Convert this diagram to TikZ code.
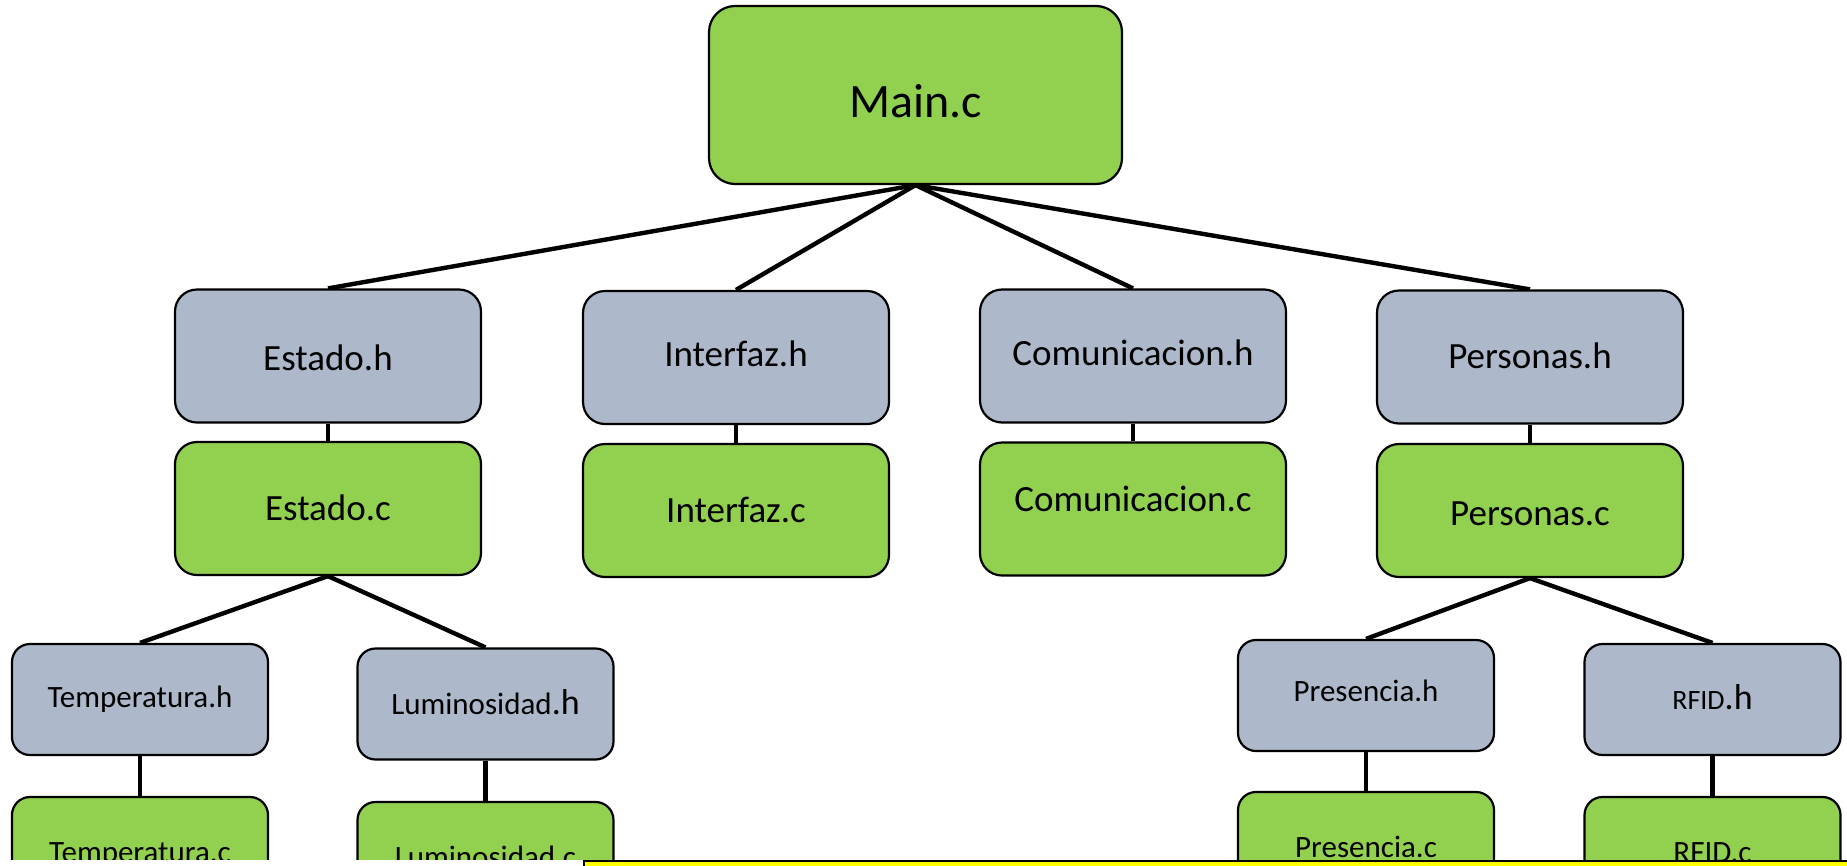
\documentclass[tikz,border=0pt]{standalone}
\usepackage{fontspec}
\setmainfont{Carlito}
\usetikzlibrary{backgrounds}
\definecolor{cgreen}{HTML}{92D050}
\definecolor{hgray}{HTML}{ADB9CA}
\definecolor{wmyellow}{HTML}{FFFF00}
\tikzset{
  box/.style={draw=black, line width=2.2pt, inner sep=0pt, text=black},
  hb/.style={box, fill=hgray},
  cb/.style={box, fill=cgreen},
  lone/.style={minimum width=413pt, minimum height=178pt, rounded corners=26pt,
    font=\fontsize{48}{58}\selectfont, text height=45.9pt, text depth=0pt},
  ltwo/.style={minimum width=306pt, minimum height=133pt, rounded corners=22pt,
    font=\fontsize{37}{44}\selectfont, text height=23.8pt, text depth=0pt},
  lthree/.style={minimum width=256pt, minimum height=111pt, rounded corners=18pt,
    font=\fontsize{31}{37}\selectfont, text height=20pt, text depth=0pt},
  link/.style={draw=black, line width=4.4pt},
}
\newcommand{\bigh}{{\fontsize{36}{43}\selectfont.h}}
\begin{document}
\begin{tikzpicture}[x=1pt,y=-1pt]
\useasboundingbox (0,0) rectangle (1847,865);
% level 1
\node[cb, lone] (main) at (915.5,95) {Main.c};
% level 2
\node[hb, ltwo, text height=29.8pt] (esth) at (328,356) {Estado.h};
\node[cb, ltwo] (estc) at (328,508.5) {Estado.c};
\node[hb, ltwo, text depth=6pt] (inth) at (736,357.5) {Interfaz.h};
\node[cb, ltwo] (intc) at (736,510.5) {Interfaz.c};
\node[hb, ltwo, text depth=5pt] (comh) at (1133,356) {Comunicacion.h};
\node[cb, ltwo, text depth=19pt] (comc) at (1133,509) {Comunicacion.c};
\node[hb, ltwo] (perh) at (1530,357) {Personas.h};
\node[cb, ltwo, text height=29.8pt] (perc) at (1530,510.5) {Personas.c};
% level 3
\node[hb, lthree, text depth=4pt] (temph) at (140,699.5) {Temperatura.h};
\node[cb, lthree] (tempc) at (140,852.5) {Temperatura.c};
\node[hb, lthree] (lumh) at (485.5,704) {Luminosidad\bigh};
\node[cb, lthree] (lumc) at (485.5,857.5) {Luminosidad.c};
\node[hb, lthree, text depth=8pt] (presh) at (1366,695.5) {Presencia.h};
\node[cb, lthree] (presc) at (1366,847.5) {Presencia.c};
\node[hb, lthree, font=\fontsize{28}{34}\selectfont] (rfidh) at (1712.5,699.5) {RFID\bigh};
\node[cb, lthree] (rfidc) at (1712.5,852.5) {RFID.c};
% connectors
\begin{scope}[on background layer]
\draw[link] (main.south) -- (esth.north);
\draw[link] (main.south) -- (inth.north);
\draw[link] (main.south) -- (comh.north);
\draw[link] (main.south) -- (perh.north);
\draw[link] (esth.south) -- (estc.north);
\draw[link] (inth.south) -- (intc.north);
\draw[link] (comh.south) -- (comc.north);
\draw[link] (perh.south) -- (perc.north);
\draw[link] (estc.south) -- (temph.north);
\draw[link] (estc.south) -- (lumh.north);
\draw[link] (perc.south) -- (presh.north);
\draw[link] (perc.south) -- (rfidh.north);
\draw[link] (temph.south) -- (tempc.north);
\draw[link] (lumh.south) -- (lumc.north);
\draw[link] (presh.south) -- (presc.north);
\draw[link] (rfidh.south) -- (rfidc.north);
\end{scope}
% cut-off strip at the bottom
\fill[white] (-5,860) rectangle (584,880);
\draw[line width=2pt, fill=wmyellow] (584,861) rectangle (1880,900);
\end{tikzpicture}
\end{document}
